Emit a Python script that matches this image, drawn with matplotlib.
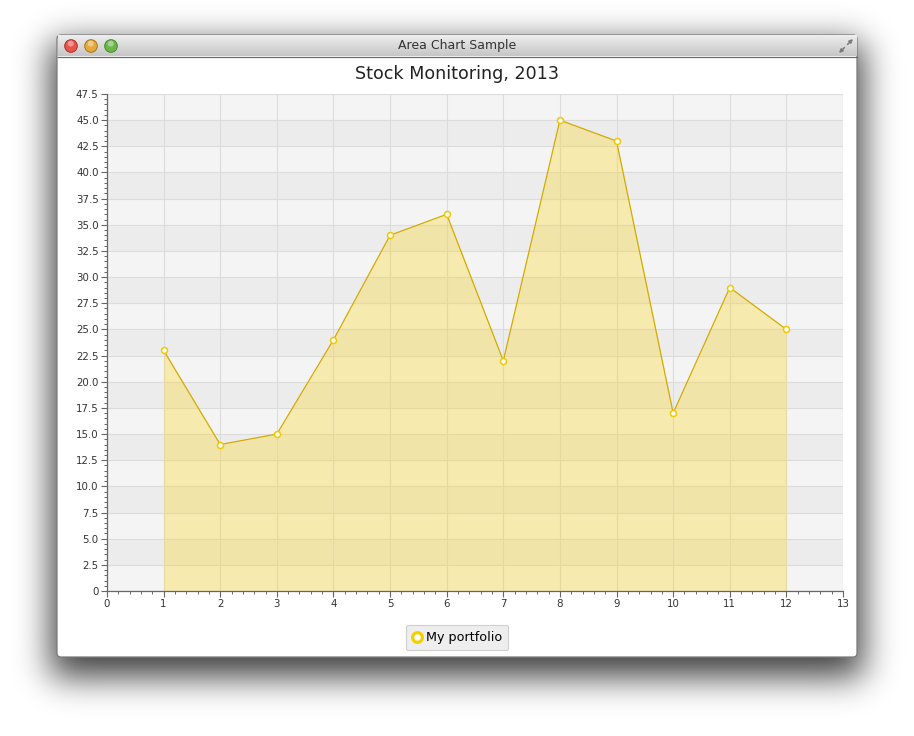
import matplotlib.pyplot as plt
import numpy as np
from matplotlib.patches import FancyBboxPatch, Circle
from matplotlib.lines import Line2D
from matplotlib.colors import LinearSegmentedColormap

# data
months = [1, 2, 3, 4, 5, 6, 7, 8, 9, 10, 11, 12]
portfolio = [23, 14, 15, 24, 34, 36, 22, 45, 43, 17, 29, 25]
series_name = "My portfolio"
chart_title = "Stock Monitoring, 2013"
window_title = "Area Chart Sample"

W, H = 914, 736
fig = plt.figure(figsize=(W / 100, H / 100), dpi=100)
fig.patch.set_facecolor("white")

# background layer in pixel coords for the window frame
bg = fig.add_axes([0, 0, 1, 1])
bg.set_xlim(0, W)
bg.set_ylim(H, 0)
bg.axis("off")

# soft drop shadow: blurred rectangle, shifted down
def blur1d(a, sigma, axis):
    r = int(sigma * 3)
    k = np.exp(-0.5 * (np.arange(-r, r + 1) / sigma) ** 2)
    k /= k.sum()
    return np.apply_along_axis(lambda v: np.convolve(v, k, mode="same"), axis, a)

mask = np.zeros((H, W))
mask[35 + 8:657 + 20, 57 - 6:857 + 6] = 1.0
sh = blur1d(blur1d(mask, 17, 0), 17, 1)
rgba = np.zeros((H, W, 4))
rgba[..., 3] = 0.75 * sh
bg.imshow(rgba, extent=(0, W, H, 0), aspect="auto", zorder=1, interpolation="bilinear")

# window body
bg.add_patch(FancyBboxPatch((57, 35), 800, 622, boxstyle="round,pad=0,rounding_size=4",
                            fc="white", ec="#7a7a7a", lw=0.9, zorder=2))
# title bar gradient
grad = np.linspace(0, 1, 50).reshape(-1, 1)
bg.imshow(grad, extent=(57.6, 856.4, 56, 35.6),
          cmap=LinearSegmentedColormap.from_list("tb", ["#eeeeee", "#c6c6c6"]), aspect="auto", zorder=3)
bg.plot([57.5, 856.5], [56.5, 56.5], color="#6a6a6a", lw=0.9, zorder=4)
bg.text(457, 46, window_title, ha="center", va="center", fontsize=9, color="#333333", zorder=5)
for cx, fc, ec in [(71, "#e5534b", "#a8302a"), (91, "#e3a93b", "#a8741c"), (111, "#6cb74a", "#3f8a2a")]:
    bg.add_patch(Circle((cx, 46), 6.3, fc=fc, ec=ec, lw=0.7, zorder=5))
    bg.add_patch(Circle((cx - 0.3, 43.6), 3.0, fc="white", ec="none", alpha=0.4, zorder=6))
# resize icon
arrow = dict(arrowstyle="-|>", color="#7a7a7a", lw=1.1, mutation_scale=5, shrinkA=0, shrinkB=0)
bg.annotate("", xy=(853, 39), xytext=(847.5, 44.5), arrowprops=arrow, zorder=5)
bg.annotate("", xy=(839, 53), xytext=(844.5, 47.5), arrowprops=arrow, zorder=5)

# chart title
bg.text(457, 74, chart_title, ha="center", va="center", fontsize=12.6, color="#222222", zorder=5)

# plot area
x0, x1, y0, y1 = 107, 843, 94, 591
ax = fig.add_axes([x0 / W, 1 - y1 / H, (x1 - x0) / W, (y1 - y0) / H])
ax.set_zorder(3)
ax.set_xlim(0, 13)
ax.set_ylim(0, 47.5)
ax.set_facecolor("#f4f4f4")

yt = np.arange(0, 47.6, 2.5)
for i in range(len(yt) - 1):
    if i % 2 == 1:
        ax.axhspan(yt[i], yt[i + 1], color="#ececec", lw=0, zorder=0)
ax.set_xticks(range(0, 14))
ax.set_yticks(yt)
ax.set_xticks(np.arange(0, 13.01, 0.2), minor=True)
ax.set_yticks(np.arange(0, 47.51, 0.5), minor=True)
ax.grid(True, which="major", color="#dcdcdc", lw=0.8, zorder=1)
ax.set_axisbelow(True)

ax.fill_between(months, portfolio, 0, color="#fed311", alpha=0.3, lw=0, zorder=2)
ax.plot(months, portfolio, color="#d3aa00", lw=0.9, zorder=3)
ax.plot(months, portfolio, "o", ms=4.3, mfc="white", mec="#f2c900", mew=1.1, zorder=4)

ax.set_xticklabels([str(v) for v in range(0, 14)])
ax.set_yticklabels(["0"] + ["%.1f" % v for v in yt[1:]])
for s in ["top", "right"]:
    ax.spines[s].set_visible(False)
for s in ["left", "bottom"]:
    ax.spines[s].set_color("#666666")
    ax.spines[s].set_linewidth(0.9)
ax.tick_params(which="major", length=4, width=0.8, color="#666666", labelsize=7.4, labelcolor="#333333", pad=2)
ax.tick_params(which="minor", length=2.3, width=0.7, color="#666666")

# legend
handle = Line2D([], [], marker="o", ls="none", ms=7, mfc="white", mec="#f5cf00", mew=2.3)
leg = fig.legend([handle], [series_name], loc="center", bbox_to_anchor=(457 / W, 1 - 637.5 / H),
                 fontsize=9.2, frameon=True, fancybox=True, handlelength=0.7, handletextpad=0.35,
                 borderpad=0.5, borderaxespad=0, facecolor="#eeeeee", edgecolor="#cfcfcf", framealpha=1)
leg.get_frame().set_linewidth(0.8)
leg.set_zorder(10)

fig.savefig("out.png", dpi=100)
